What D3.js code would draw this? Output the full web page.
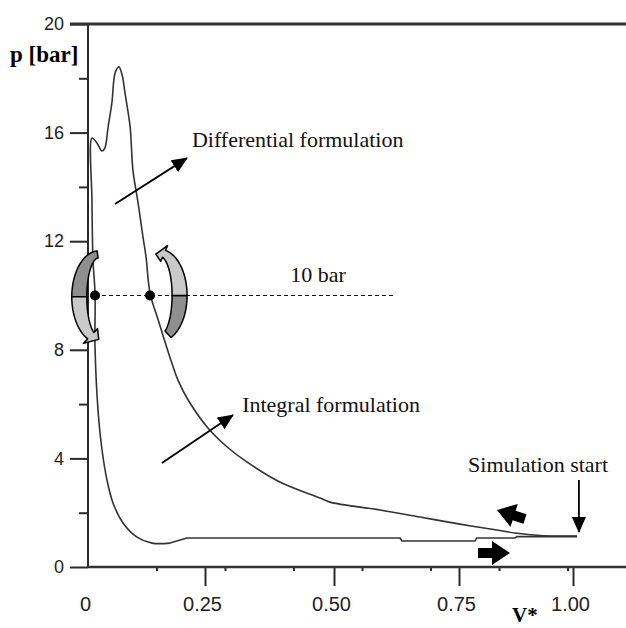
<!DOCTYPE html>
<html>
<head>
<meta charset="utf-8">
<script src="https://cdn.jsdelivr.net/npm/d3@7"></script>
<style>
  body { margin: 0; background: #fff; }
  svg { display: block; }
  .serif { font-family: "Liberation Serif", "Times New Roman", serif; }
  .sans { font-family: "Liberation Sans", Arial, sans-serif; }
</style>
</head>
<body>
<div id="chart"></div>
<script>
// p-V cycle, starting at "Simulation start" and going round
const cycleV = [1.009, 0.972, 0.928, 0.873, 0.833, 0.752, 0.672, 0.592, 0.492, 0.473, 0.395, 0.331,
  0.293, 0.254, 0.214, 0.192, 0.175, 0.150, 0.1325, 0.124, 0.1175, 0.107, 0.096, 0.090, 0.079, 0.073,
  0.066, 0.058, 0.051, 0.043, 0.036, 0.030, 0.019, 0.0085,
  0.0085, 0.0107, 0.015, 0.015, 0.0214, 0.030, 0.0406, 0.0534, 0.0748, 0.1047, 0.1368, 0.1752,
  0.2115, 0.632, 0.636, 0.785, 0.789, 0.873, 0.877, 1.009];
const cycleP = [1.14, 1.14, 1.16, 1.25, 1.36, 1.58, 1.84, 2.10, 2.39, 2.54, 3.13, 3.87,
  4.42, 5.16, 6.15, 6.89, 7.73, 9.10, 10.09, 11.42, 12.15, 13.41, 14.62, 16.21, 17.46, 18.12,
  18.42, 18.20, 17.09, 16.21, 15.43, 15.32, 15.62, 15.80,
  13.5, 11.3, 10.09, 8.1, 5.78, 4.31, 3.2, 2.36, 1.62, 1.10, 0.88, 0.88,
  1.07, 1.07, 0.96, 0.96, 1.07, 1.07, 1.12, 1.12];
const flatFrom = 45;   // from this point on the expansion line runs flat, drawn straight

const xTicks = [0, 0.25, 0.5, 0.75, 1];
const xTickLabels = ["0", "0.25", "0.50", "0.75", "1.00"];
const gridXTicks = [1, 2, 3, 4, 5, 6, 7];   // small native ticks of the plot underneath
const yMajor = [0, 4, 8, 12, 16, 20];
const yMinor = [2, 6, 10, 14, 18];

// 10 bar reference: dashed line ends and the two marked points
const refP = 10;
const refLineV = [0.015, 0.618];
const refDotsV = [0.015, 0.1325];

// annotations [V*, p]
const labels = [
  { text: "Differential formulation", v: 0.222, p: 15.47 },
  { text: "10 bar", v: 0.415, p: 10.5 },
  { text: "Integral formulation", v: 0.322, p: 5.71 },
  { text: "Simulation start", v: 0.770, p: 3.5 },
];
const thinArrows = [
  { from: [0.0577, 13.37], to: [0.2115, 15.06] },
  { from: [0.158, 3.83], to: [0.3043, 5.60] },
  { from: [1.013, 3.20], to: [1.013, 1.29] },
];
const blockArrows = [
  { from: [0.8947, 1.77], to: [0.8333, 2.10] },
  { from: [0.7917, 0.52], to: [0.8618, 0.52] },
];
// rotation symbols around the 10 bar points: centre [V*, p], side (-1 left, +1 right)
const turns = [
  { c: [0.023, 9.95], side: -1 },
  { c: [0.154, 10.0], side: 1 },
];

const width = 626, height = 628;
const svg = d3.select("#chart").append("svg").attr("width", width).attr("height", height);

const x = d3.scaleLinear().domain(xTicks).range([88, 205, 334, 459, 573]);
const gridX = d3.scaleLinear().domain([0, 7]).range([88, 567.5]);
const y = d3.scaleLinear().domain([0, 20]).range([567, 24]);

const ink = "#2a2a2a";

// axes
const gY = svg.append("g").attr("transform", `translate(${x(0)},0)`)
  .call(d3.axisLeft(y).tickValues(yMajor).tickSize(18).tickPadding(6));
svg.append("g").attr("transform", `translate(${x(0)},0)`)
  .call(d3.axisLeft(y).tickValues(yMinor).tickSize(9).tickFormat(""));
const gX = svg.append("g").attr("transform", `translate(0,${y(0)})`)
  .call(d3.axisBottom(x).tickValues(xTicks).tickSize(19).tickPadding(11)
    .tickFormat((d, i) => xTickLabels[i]));
svg.append("g").attr("transform", `translate(0,${y(0)})`)
  .call(d3.axisBottom(gridX).tickValues(gridXTicks).tickSize(4).tickFormat(""));
gX.selectAll(".tick").filter(d => d === 0).select("line").remove();
svg.selectAll(".domain").remove();
svg.selectAll(".tick line").attr("stroke", ink).attr("stroke-width", 2);
gY.selectAll("text").attr("class", "sans").attr("font-size", 18).attr("fill", "#222");
gX.selectAll("text").attr("class", "sans").attr("font-size", 20).attr("fill", "#222").attr("dx", -3);

// frame lines: left axis, top line, bottom axis
svg.append("line").attr("x1", x(0)).attr("x2", x(0)).attr("y1", y(0)).attr("y2", y(20))
  .attr("stroke", ink).attr("stroke-width", 2);
svg.append("line").attr("x1", x(0) - 18).attr("x2", width).attr("y1", y(20)).attr("y2", y(20))
  .attr("stroke", "#333").attr("stroke-width", 3);
svg.append("line").attr("x1", x(0)).attr("x2", width).attr("y1", y(0)).attr("y2", y(0))
  .attr("stroke", "#333").attr("stroke-width", 2.5);

// axis titles
svg.append("text").attr("class", "serif").attr("font-weight", "bold").attr("font-size", 23)
  .attr("x", 10).attr("y", 62).text("p [bar]");
svg.append("text").attr("class", "serif").attr("font-weight", "bold").attr("font-size", 21)
  .attr("x", 512).attr("y", 622).text("V*");

// cycle curve: smooth through compression and the drop, straight along the flat return
const cycle = cycleV.map((v, i) => [v, cycleP[i]]);
const gCurve = svg.append("g").attr("fill", "none").attr("stroke", "#333")
  .attr("stroke-width", 1.6).attr("stroke-linejoin", "round");
gCurve.append("path").datum(cycle.slice(0, flatFrom + 1))
  .attr("d", d3.line().curve(d3.curveCatmullRom.alpha(0.5)).x(d => x(d[0])).y(d => y(d[1])));
gCurve.append("path").datum(cycle.slice(flatFrom))
  .attr("d", d3.line().x(d => x(d[0])).y(d => y(d[1])));

// 10 bar dashed reference
svg.append("line").attr("x1", x(refLineV[0])).attr("x2", x(refLineV[1]))
  .attr("y1", y(refP)).attr("y2", y(refP))
  .attr("stroke", "#111").attr("stroke-width", 1.2).attr("stroke-dasharray", "4,3");

// rotation ribbons
function ribbon(cx, cy, side, a0, a1, head, dir) {
  const rxo = 27, ryo = 46, rxi = 12, ryi = 39;
  const pt = (phi, t) => {
    const rx = rxi + t * (rxo - rxi), ry = ryi + t * (ryo - ryi);
    return [cx + side * rx * Math.sin(phi), cy - ry * Math.cos(phi)];
  };
  const phis = d3.range(0, 21).map(k => a0 + (a1 - a0) * k / 20);
  let pts = phis.map(p => pt(p, 1)).concat(phis.slice().reverse().map(p => pt(p, 0)));
  if (head) {
    const e = a1;
    pts = phis.map(p => pt(p, 1))
      .concat([pt(e, 1.7), pt(e + dir * 0.42, 0.5), pt(e, -0.6)])
      .concat(phis.slice().reverse().map(p => pt(p, 0)));
  }
  return d3.line().curve(d3.curveLinearClosed)(pts);
}
const gTurn = svg.append("g");
turns.forEach(t => {
  const cx = x(t.c[0]), cy = y(t.c[1]);
  const parts = t.side < 0
    ? [ { a0: 0.06, a1: Math.PI / 2, fill: "#8f8f8f", head: false },
        { a0: Math.PI / 2, a1: 2.72, fill: "#c9c9c9", head: true, dir: 1 } ]
    : [ { a0: 2.72, a1: Math.PI / 2, fill: "#8f8f8f", head: false },
        { a0: Math.PI / 2, a1: 0.2, fill: "#c9c9c9", head: true, dir: -1 } ];
  parts.forEach(p => {
    gTurn.append("path").attr("d", ribbon(cx, cy, t.side, p.a0, p.a1, p.head, p.dir))
      .attr("fill", p.fill).attr("stroke", "#000").attr("stroke-width", 1.5)
      .attr("stroke-linejoin", "round");
  });
});

// dots on the 10 bar line
svg.selectAll("circle.ref").data(refDotsV).join("circle").attr("class", "ref")
  .attr("cx", d => x(d)).attr("cy", y(refP)).attr("r", 5).attr("fill", "#000");

// thin arrows
svg.append("defs").append("marker").attr("id", "head")
  .attr("markerUnits", "userSpaceOnUse").attr("markerWidth", 16).attr("markerHeight", 14)
  .attr("viewBox", "0 0 16 14").attr("refX", 15).attr("refY", 7).attr("orient", "auto")
  .append("path").attr("d", "M0,0L16,7L0,14Z").attr("fill", "#000");
svg.selectAll("line.arr").data(thinArrows).join("line").attr("class", "arr")
  .attr("x1", d => x(d.from[0])).attr("y1", d => y(d.from[1]))
  .attr("x2", d => x(d.to[0])).attr("y2", d => y(d.to[1]))
  .attr("stroke", "#000").attr("stroke-width", 1.8).attr("marker-end", "url(#head)");

// block arrows along the cycle
svg.selectAll("path.block").data(blockArrows).join("path").attr("class", "block")
  .attr("d", d => {
    const x0 = x(d.from[0]), y0 = y(d.from[1]), x1 = x(d.to[0]), y1 = y(d.to[1]);
    const L = Math.hypot(x1 - x0, y1 - y0);
    return `M0,0L-18,-12L-18,-5L${-L},-5L${-L},5L-18,5L-18,12Z`;
  })
  .attr("transform", d => {
    const x0 = x(d.from[0]), y0 = y(d.from[1]), x1 = x(d.to[0]), y1 = y(d.to[1]);
    const ang = Math.atan2(y1 - y0, x1 - x0) * 180 / Math.PI;
    return `translate(${x1},${y1}) rotate(${ang})`;
  })
  .attr("fill", "#000");

// labels
svg.selectAll("text.note").data(labels).join("text").attr("class", "note serif")
  .attr("x", d => x(d.v)).attr("y", d => y(d.p))
  .attr("font-size", 22).attr("fill", "#111").text(d => d.text);
</script>
</body>
</html>
